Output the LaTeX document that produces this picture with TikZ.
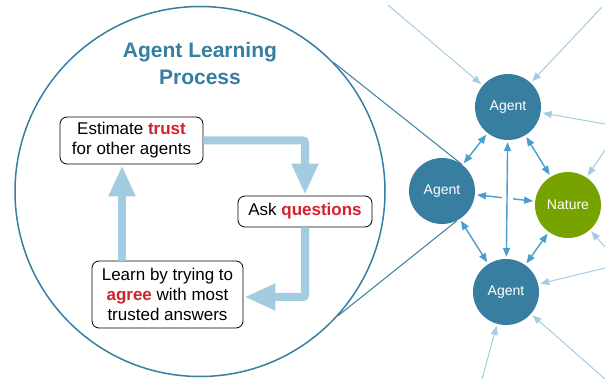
\documentclass[tikz,border=0pt]{standalone}
\usepackage{fontspec}
\setmainfont{Liberation Sans}
\usetikzlibrary{arrows.meta,calc}
\definecolor{agentblue}{HTML}{377EA1}
\definecolor{naturegreen}{HTML}{77A300}
\definecolor{lightarrow}{HTML}{A5CDE1}
\definecolor{midarrow}{HTML}{4A9DCF}
\definecolor{flowblue}{HTML}{A3CCE0}
\definecolor{hired}{HTML}{D1222E}
\newcommand{\hl}[1]{\textcolor{hired}{\textbf{#1}}}
\begin{document}
\begin{tikzpicture}[x=1pt,y=-1pt,
  bigc/.style={circle, draw=agentblue, line width=1.5pt, minimum size=370pt, inner sep=0pt},
  titletext/.style={text=agentblue, font=\fontsize{21}{27}\selectfont\bfseries, align=center},
  agent/.style={circle, fill=agentblue, text=white, minimum size=66pt, inner sep=0pt, font=\fontsize{14}{16}\selectfont},
  nature/.style={agent, fill=naturegreen},
  box/.style={draw=black, line width=0.8pt, rounded corners=7pt, fill=white, align=center, inner sep=0pt, font=\fontsize{17}{20}\selectfont},
  flow/.style={draw=flowblue, line width=8pt, rounded corners=2pt, -{Triangle[length=31pt,width=25pt]}, shorten >=1pt},
  inarrow/.style={draw=lightarrow, line width=1pt, -{Triangle[length=9pt,width=7pt]}, shorten >=2pt},
  dbl/.style={draw=midarrow, line width=1.4pt, {Triangle[length=9pt,width=7pt]}-{Triangle[length=9pt,width=7pt]}, shorten >=2pt, shorten <=2pt},
  tang/.style={draw=agentblue, line width=1pt}
]
\useasboundingbox (0,0) rectangle (605,379);
\fill[white] (0,0) rectangle (605,379);

% magnified circle
\node[bigc] (big) at (200,191.5) {};
\node[titletext] (title) at (200,63) {Agent Learning\\Process};

% agents
\node[agent] (a1) at (508,107) {Agent};
\node[agent] (a2) at (442,191) {Agent};
\node[agent] (a3) at (506,292) {Agent};
\node[nature] (nat) at (568,205) {Nature};

% lines from the magnified circle to the agent
\draw[tang] (big.44) -- (a2.53);
\draw[tang] (big.-42) -- (a2.-63);

% process boxes
\node[box, minimum width=143pt, minimum height=47pt] (est) at (131.5,140.5) {Estimate \hl{trust}\\for other agents};
\node[box, minimum width=134pt, minimum height=31pt] (ask) at (305,211.5) {Ask \hl{questions}};
\node[box, minimum width=151pt, minimum height=67pt] (learn) at (167.5,294.5) {Learn by trying to\\\hl{agree} with most\\trusted answers};

% flow arrows
\draw[flow] (est.east) -| (ask.north);
\draw[flow] (ask.south) |- ([yshift=-2.5pt]learn.east);
\draw[flow] ([xshift=-45.5pt]learn.north) -- ([xshift=-45.5pt]learn.north |- est.south);

% incoming arrows
\coordinate (i1) at (388,5);
\coordinate (i2) at (602,7);
\coordinate (i3) at (605,124);
\coordinate (i4) at (605,150);
\coordinate (i5) at (605,247);
\coordinate (i6) at (605,268);
\coordinate (i7) at (482,379);
\coordinate (i8) at (605,379);
\draw[inarrow] (i1) -- (a1);
\draw[inarrow] (i2) -- (a1);
\draw[inarrow] (i3) -- (a1);
\draw[inarrow] (i4) -- (nat);
\draw[inarrow] (i5) -- (nat);
\draw[inarrow] (i6) -- (a3);
\draw[inarrow] (i7) -- (a3);
\draw[inarrow] (i8) -- (a3);

% links between agents
\draw[dbl] (a1) -- (a2);
\draw[dbl] (a1) -- (nat);
\draw[dbl] (a1) -- (a3);
\draw[dbl] (a2) -- (a3);
\draw[dbl] (nat) -- (a3);
\coordinate (g1) at ($(a2)!0.476!(nat)$);
\coordinate (g2) at ($(a2)!0.564!(nat)$);
\draw[draw=midarrow, line width=1.4pt, {Triangle[length=9pt,width=7pt]}-, shorten <=2pt] (a2) -- (g1);
\draw[draw=midarrow, line width=1.4pt, -{Triangle[length=9pt,width=7pt]}, shorten >=2pt] (g2) -- (nat);
\end{tikzpicture}
\end{document}
